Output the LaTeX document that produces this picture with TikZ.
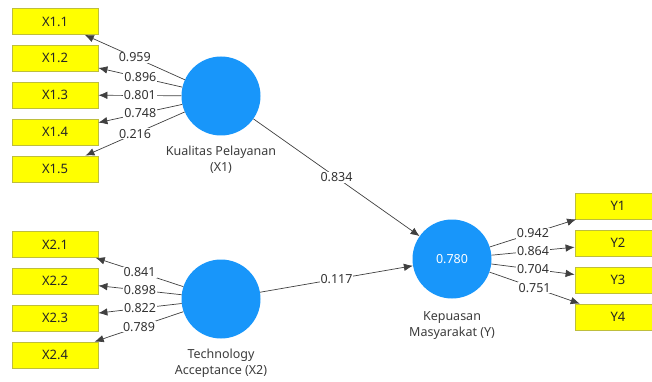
\documentclass[tikz,border=0pt]{standalone}
\usepackage{fontspec}
\setmainfont{Noto Sans}
\usetikzlibrary{arrows.meta}
\definecolor{lvblue}{RGB}{24,150,250}
\definecolor{indyellow}{RGB}{255,255,0}
\definecolor{indborder}{RGB}{190,190,60}
\definecolor{txtgray}{RGB}{60,60,60}
\tikzset{
  ind/.style={draw=indborder, fill=indyellow, line width=0.8pt, minimum width=86pt, minimum height=26pt, inner sep=0pt, font=\fontsize{13}{14}\selectfont, text=black!85},
  lv/.style={circle, fill=lvblue, minimum size=79pt, inner sep=0pt, font=\fontsize{12.5}{14}\selectfont, text=white},
  lvlabel/.style={align=center, font=\fontsize{12.5}{16}\selectfont, text=txtgray},
  conn/.style={draw=black!75, line width=0.7pt, -{Latex[length=9pt,width=7.5pt]}},
  wt/.style={fill=white, inner sep=1pt, font=\fontsize{12.5}{13}\selectfont, text=black!80}
}
\begin{document}
\begin{tikzpicture}[x=1pt,y=-1pt]
\useasboundingbox (0,0) rectangle (652,382);
\clip (0,0) rectangle (652,382);
% latent variables
\node[lv] (X1) at (221,96) {};
\node[lv] (X2) at (221,299) {};
\node[lv] (Y) at (452,259) {0.780};
\node[lvlabel] (X1l) at (221,160) {Kualitas Pelayanan\\(X1)};
\node[lvlabel] (X2l) at (221,363) {Technology\\Acceptance (X2)};
\node[lvlabel] (Yl) at (452,326) {Kepuasan\\Masyarakat (Y)};
% indicators X1
\node[ind] (x11) at (55,21.5) {X1.1};
\node[ind] (x12) at (55,58) {X1.2};
\node[ind] (x13) at (55,95) {X1.3};
\node[ind] (x14) at (55,132) {X1.4};
\node[ind] (x15) at (55,169) {X1.5};
% indicators X2
\node[ind] (x21) at (55,244.5) {X2.1};
\node[ind] (x22) at (55,281) {X2.2};
\node[ind] (x23) at (55,318) {X2.3};
\node[ind] (x24) at (55,355) {X2.4};
% indicators Y
\node[ind] (y1) at (618,206) {Y1};
\node[ind] (y2) at (618,243) {Y2};
\node[ind] (y3) at (618,280) {Y3};
\node[ind] (y4) at (618,317) {Y4};
% loadings X1
\draw[conn] (X1) -- node[wt]{0.959} (x11);
\draw[conn] (X1) -- node[wt]{0.896} (x12);
\draw[conn] (X1) -- node[wt]{0.801} (x13);
\draw[conn] (X1) -- node[wt]{0.748} (x14);
\draw[conn] (X1) -- node[wt]{0.216} (x15);
% loadings X2
\draw[conn] (X2) -- node[wt]{0.841} (x21);
\draw[conn] (X2) -- node[wt]{0.898} (x22);
\draw[conn] (X2) -- node[wt]{0.822} (x23);
\draw[conn] (X2) -- node[wt]{0.789} (x24);
% loadings Y
\draw[conn] (Y) -- node[wt]{0.942} (y1);
\draw[conn] (Y) -- node[wt]{0.864} (y2);
\draw[conn] (Y) -- node[wt]{0.704} (y3);
\draw[conn] (Y) -- node[wt]{0.751} (y4);
% paths
\draw[conn] (X1) -- node[wt]{0.834} (Y);
\draw[conn] (X2) -- node[wt]{0.117} (Y);
\end{tikzpicture}
\end{document}
